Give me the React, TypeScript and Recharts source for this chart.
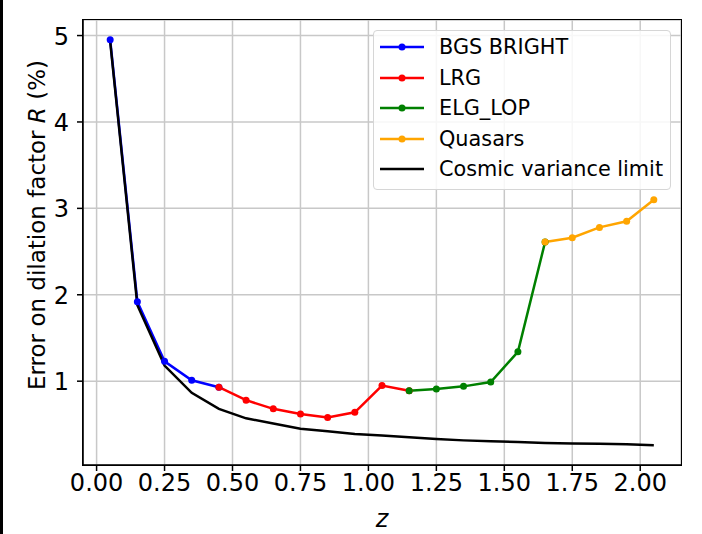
import React from 'react';
import {
  LineChart,
  Line,
  XAxis,
  YAxis,
  CartesianGrid,
} from 'recharts';

// redshift bins and error on dilation factor R (%)
const bgsZ = [0.05, 0.15, 0.25, 0.35, 0.45];
const bgsErr = [4.95, 1.92, 1.23, 1.01, 0.93];

const lrgZ = [0.45, 0.55, 0.65, 0.75, 0.85, 0.95, 1.05, 1.15];
const lrgErr = [0.93, 0.78, 0.68, 0.62, 0.58, 0.64, 0.95, 0.89];

const elgZ = [1.15, 1.25, 1.35, 1.45, 1.55, 1.65];
const elgErr = [0.89, 0.91, 0.94, 0.99, 1.34, 2.61];

const qsoZ = [1.65, 1.75, 1.85, 1.95, 2.05];
const qsoErr = [2.61, 2.66, 2.78, 2.85, 3.1];

const cvZ = [
  0.05, 0.15, 0.25, 0.35, 0.45, 0.55, 0.65, 0.75, 0.85, 0.95, 1.05,
  1.15, 1.25, 1.35, 1.45, 1.55, 1.65, 1.75, 1.85, 1.95, 2.05,
];
const cvErr = [
  4.93, 1.88, 1.18, 0.865, 0.68, 0.57, 0.51, 0.45, 0.42, 0.39, 0.37,
  0.35, 0.33, 0.315, 0.305, 0.295, 0.285, 0.28, 0.275, 0.27, 0.26,
];

const xTicks = [0, 0.25, 0.5, 0.75, 1, 1.25, 1.5, 1.75, 2];
const yTicks = [1, 2, 3, 4, 5];

const seriesInfo = [
  { name: 'BGS BRIGHT', color: '#0000ff', dot: true },
  { name: 'LRG', color: '#ff0000', dot: true },
  { name: 'ELG_LOP', color: '#008000', dot: true },
  { name: 'Quasars', color: '#ffa500', dot: true },
  { name: 'Cosmic variance limit', color: '#000000', dot: false },
];

const toPoints = (zs: number[], vs: number[]) => zs.map((z, i) => ({ z, v: vs[i] }));

const FONT = '"DejaVu Sans", sans-serif';

// plot area in page pixels
const PLOT = { left: 83, top: 20, right: 681, bottom: 465 };

const LegendBox = () => (
  <div
    style={{
      position: 'absolute',
      left: 373,
      top: 30,
      width: 296,
      height: 158,
      border: '1px solid #d6d6d6',
      borderRadius: 4,
      background: 'rgba(255,255,255,0.85)',
      fontFamily: FONT,
      fontSize: 20.8,
      color: '#000',
    }}
  >
    {seriesInfo.map((s, i) => (
      <div
        key={s.name}
        style={{ position: 'absolute', left: 0, top: 1 + i * 30.5, height: 30, width: 296 }}
      >
        <svg width={60} height={30} style={{ position: 'absolute', left: 0, top: 0 }}>
          <line x1={6} x2={50} y1={15} y2={15} stroke={s.color} strokeWidth={2.5} />
          {s.dot && <circle cx={28} cy={15} r={3.5} fill={s.color} />}
        </svg>
        <span style={{ position: 'absolute', left: 65, top: 1, whiteSpace: 'nowrap', lineHeight: '28px' }}>
          {s.name}
        </span>
      </div>
    ))}
  </div>
);

const XTick = ({ x, y, payload }: any) => (
  <text x={x} y={y + 20} textAnchor="middle" fontFamily={FONT} fontSize={24} fill="#000">
    {Number(payload.value).toFixed(2)}
  </text>
);

const YTick = ({ x, y, payload }: any) => (
  <text x={x} y={y + 9} textAnchor="end" fontFamily={FONT} fontSize={24} fill="#000">
    {payload.value}
  </text>
);

export default function App() {
  const lineProps = {
    type: 'linear' as const,
    dataKey: 'v',
    strokeWidth: 2.5,
    isAnimationActive: false,
  };
  return (
    <div
      style={{
        position: 'absolute',
        left: 0,
        top: 0,
        width: 702,
        height: 534,
        background: '#fff',
        overflow: 'hidden',
      }}
    >
      <div style={{ position: 'absolute', left: 0, top: 0, width: 3, height: 534, background: '#000' }} />
      <LineChart width={702} height={534} margin={{ top: PLOT.top, right: 702 - PLOT.right, bottom: 0, left: 0 }}>
        <CartesianGrid stroke="#c8c8c8" strokeWidth={1.5} />
        <XAxis
          dataKey="z"
          type="number"
          domain={[-0.05, 2.15]}
          ticks={xTicks}
          allowDataOverflow
          tick={<XTick />}
          tickSize={6}
          tickMargin={0}
          height={534 - PLOT.bottom}
          stroke="#000"
          strokeWidth={1.5}
        />
        <YAxis
          type="number"
          domain={[0.03, 5.18]}
          ticks={yTicks}
          allowDataOverflow
          tick={<YTick />}
          tickSize={6}
          tickMargin={8}
          width={PLOT.left}
          stroke="#000"
          strokeWidth={1.5}
        />
        <Line {...lineProps} data={toPoints(bgsZ, bgsErr)} stroke="#0000ff" dot={{ r: 3.5, fill: '#0000ff', stroke: 'none' }} />
        <Line {...lineProps} data={toPoints(lrgZ, lrgErr)} stroke="#ff0000" dot={{ r: 3.5, fill: '#ff0000', stroke: 'none' }} />
        <Line {...lineProps} data={toPoints(elgZ, elgErr)} stroke="#008000" dot={{ r: 3.5, fill: '#008000', stroke: 'none' }} />
        <Line {...lineProps} data={toPoints(qsoZ, qsoErr)} stroke="#ffa500" dot={{ r: 3.5, fill: '#ffa500', stroke: 'none' }} />
        <Line {...lineProps} data={toPoints(cvZ, cvErr)} stroke="#000000" dot={false} />
      </LineChart>
      {/* axes frame (spines) */}
      <div
        style={{
          position: 'absolute',
          left: PLOT.left - 1,
          top: PLOT.top - 1,
          width: PLOT.right - PLOT.left,
          height: PLOT.bottom - PLOT.top,
          border: '1.5px solid #000',
          pointerEvents: 'none',
        }}
      />
      <svg width={702} height={534} style={{ position: 'absolute', left: 0, top: 0, pointerEvents: 'none' }}>
        <text
          x={37}
          y={225}
          transform="rotate(-90 37 225)"
          textAnchor="middle"
          dominantBaseline="central"
          fontFamily={FONT}
          fontSize={23}
          fill="#000"
        >
          Error on dilation factor <tspan fontStyle="italic">R</tspan> (%)
        </text>
        <text x={382} y={527} textAnchor="middle" fontFamily={FONT} fontSize={24} fontStyle="italic" fill="#000">
          z
        </text>
      </svg>
      <LegendBox />
    </div>
  );
}
